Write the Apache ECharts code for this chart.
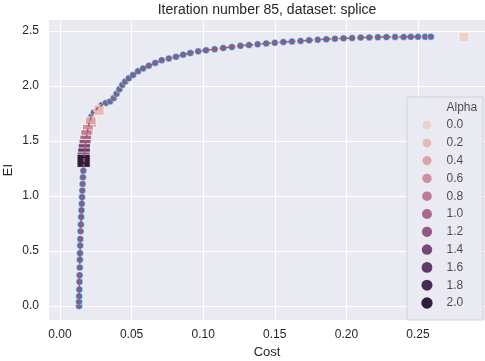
<!DOCTYPE html>
<html>
<head>
<meta charset="utf-8">
<script src="https://cdn.jsdelivr.net/npm/echarts@6/dist/echarts.min.js"></script>
<style>
  html, body { margin: 0; padding: 0; background: #fff; }
  #chart { width: 485px; height: 361px; }
</style>
</head>
<body>
<div id="chart"></div>
<script>
// evaluated points (cost, EI)
var costs = [0.0133, 0.0133, 0.0134, 0.0135, 0.0136, 0.0137, 0.0138, 0.0139, 0.0140, 0.0141,
  0.0142, 0.0144, 0.0146, 0.0148, 0.0150, 0.0152, 0.0154, 0.0156, 0.0158, 0.0160,
  0.0163, 0.0166, 0.0170, 0.0175, 0.0181, 0.0188, 0.0196, 0.0205, 0.0218, 0.0236,
  0.0262, 0.0290, 0.0320, 0.0350, 0.0375, 0.0395, 0.0415, 0.0435, 0.0455, 0.0480,
  0.0510, 0.0545, 0.0580, 0.0620, 0.0665, 0.0710, 0.0760, 0.0810, 0.0860, 0.0910,
  0.0965, 0.1020, 0.1080, 0.1140, 0.1200, 0.1260, 0.1320, 0.1380, 0.1440, 0.1500,
  0.1560, 0.1620, 0.1680, 0.1740, 0.1800, 0.1860, 0.1920, 0.1980, 0.2040, 0.2100,
  0.2160, 0.2220, 0.2280, 0.2340, 0.2400, 0.2450, 0.2500, 0.2550, 0.2590];
var eis = [0.00, 0.04, 0.09, 0.15, 0.22, 0.28, 0.35, 0.42, 0.48, 0.55,
  0.61, 0.68, 0.74, 0.81, 0.87, 0.93, 0.99, 1.05, 1.11, 1.17,
  1.23, 1.29, 1.36, 1.43, 1.50, 1.56, 1.62, 1.67, 1.72, 1.76,
  1.80, 1.825, 1.845, 1.86, 1.89, 1.93, 1.97, 2.01, 2.04, 2.07,
  2.10, 2.135, 2.16, 2.185, 2.21, 2.235, 2.25, 2.265, 2.285, 2.30,
  2.315, 2.325, 2.335, 2.345, 2.355, 2.365, 2.372, 2.38, 2.387, 2.393,
  2.40, 2.405, 2.41, 2.415, 2.42, 2.425, 2.43, 2.433, 2.436, 2.44,
  2.442, 2.444, 2.445, 2.446, 2.446, 2.447, 2.447, 2.448, 2.448];

// chosen point for each alpha
var alphas = [0.0, 0.2, 0.4, 0.6, 0.8, 1.0, 1.2, 1.4, 1.6, 1.8, 2.0];
var alphaCost = [0.2821, 0.0272, 0.0215, 0.0195, 0.0185, 0.0180, 0.0175, 0.0170, 0.0168, 0.0165, 0.0165];
var alphaEI = [2.445, 1.78, 1.67, 1.60, 1.55, 1.50, 1.46, 1.42, 1.38, 1.34, 1.32];

var palette = ['#edd1cb', '#e5baba', '#daa4ac', '#cd8ea1', '#bd7a98', '#aa678f',
  '#935685', '#7b4778', '#613969', '#462b55', '#2d1e3e'];

var font = 'Liberation Sans, Arial, sans-serif';
var txt = '#262626';

var pts = costs.map(function (c, i) { return [c, eis[i]]; });
var squares = alphas.map(function (a, i) {
  return {
    value: [alphaCost[i], alphaEI[i]],
    symbolSize: 10 + a * 1.6,
    itemStyle: { color: palette[i] }
  };
});
var legendDots = alphas.map(function (a, i) {
  return {
    value: [0.263, i],
    symbolSize: 8.5 + a * 1.4,
    itemStyle: { color: palette[i] }
  };
});
var legendText = [{ value: [0.513, -1], name: 'Alpha' }].concat(alphas.map(function (a, i) {
  return { value: [0.513, i], name: a.toFixed(1) };
}));

var myChart = echarts.init(document.getElementById('chart'), null, { renderer: 'canvas' });

var option = {
  backgroundColor: '#ffffff',
  animation: false,
  title: {
    text: 'Iteration number 85, dataset: splice',
    left: 267,
    textAlign: 'center',
    top: 3,
    padding: 0,
    textStyle: { fontFamily: font, fontSize: 14, fontWeight: 'normal', color: txt }
  },
  grid: [
    { left: 49, right: 0, top: 20, bottom: 41, show: true, backgroundColor: '#EAEAF2', borderWidth: 0,
      outerBoundsMode: 'none', containLabel: false },
    { left: 407, top: 97, width: 76, height: 223, show: true, backgroundColor: 'rgba(234,234,242,0.85)',
      borderColor: '#d2d2d8', borderWidth: 1, z: 5, outerBoundsMode: 'none', containLabel: false }
  ],
  xAxis: [
    {
      type: 'value', gridIndex: 0,
      min: -0.00768, max: 0.2968, splitNumber: 6,
      name: 'Cost', nameLocation: 'middle', nameGap: 26, nameMoveOverlap: false,
      nameTextStyle: { fontFamily: font, fontSize: 13, color: txt },
      axisLine: { show: false }, axisTick: { show: false },
      axisLabel: {
        fontFamily: font, fontSize: 12, color: txt, margin: 9,
        showMinLabel: false, showMaxLabel: false,
        formatter: function (v) { return v.toFixed(2); }
      },
      splitLine: { show: true, showMinLine: false, showMaxLine: false, lineStyle: { color: '#ffffff', width: 1 } }
    },
    { type: 'value', gridIndex: 1, min: 0, max: 1, show: false }
  ],
  yAxis: [
    {
      type: 'value', gridIndex: 0,
      min: -0.127, max: 2.6, splitNumber: 5,
      name: 'EI', nameLocation: 'middle', nameGap: 34, nameMoveOverlap: false,
      nameTextStyle: { fontFamily: font, fontSize: 13, color: txt },
      axisLine: { show: false }, axisTick: { show: false },
      axisLabel: {
        fontFamily: font, fontSize: 12, color: txt, margin: 10,
        showMinLabel: false, showMaxLabel: false,
        formatter: function (v) { return v.toFixed(1); }
      },
      splitLine: { show: true, showMinLine: false, showMaxLine: false, lineStyle: { color: '#ffffff', width: 1 } }
    },
    { type: 'value', gridIndex: 1, min: -1.573, max: 10.955, inverse: true, show: false }
  ],
  series: [
    {
      name: 'points', type: 'scatter', xAxisIndex: 0, yAxisIndex: 0,
      data: pts, symbol: 'circle', symbolSize: 7, z: 2,
      itemStyle: { color: '#4C72B0', opacity: 1, borderColor: '#ffffff', borderWidth: 0.5 }
    },
    {
      name: 'alpha', type: 'scatter', xAxisIndex: 0, yAxisIndex: 0,
      data: squares, symbol: 'rect', z: 3,
      itemStyle: { opacity: 1, borderColor: '#ffffff', borderWidth: 0.8 }
    },
    {
      name: 'front', type: 'line', xAxisIndex: 0, yAxisIndex: 0,
      data: pts, showSymbol: false, z: 4,
      lineStyle: { color: '#C44E52', width: 1.5, type: [4, 2] }
    },
    {
      name: 'legendDots', type: 'scatter', xAxisIndex: 1, yAxisIndex: 1,
      data: legendDots, symbol: 'circle', z: 6,
      itemStyle: { opacity: 1 }
    },
    {
      name: 'legendText', type: 'scatter', xAxisIndex: 1, yAxisIndex: 1,
      data: legendText, symbolSize: 1, z: 6,
      itemStyle: { color: 'rgba(0,0,0,0)' },
      label: {
        show: true, position: 'right', distance: 0,
        formatter: function (p) { return p.name; },
        fontFamily: font, fontSize: 12, color: txt
      }
    }
  ]
};

myChart.setOption(option);
</script>
</body>
</html>
